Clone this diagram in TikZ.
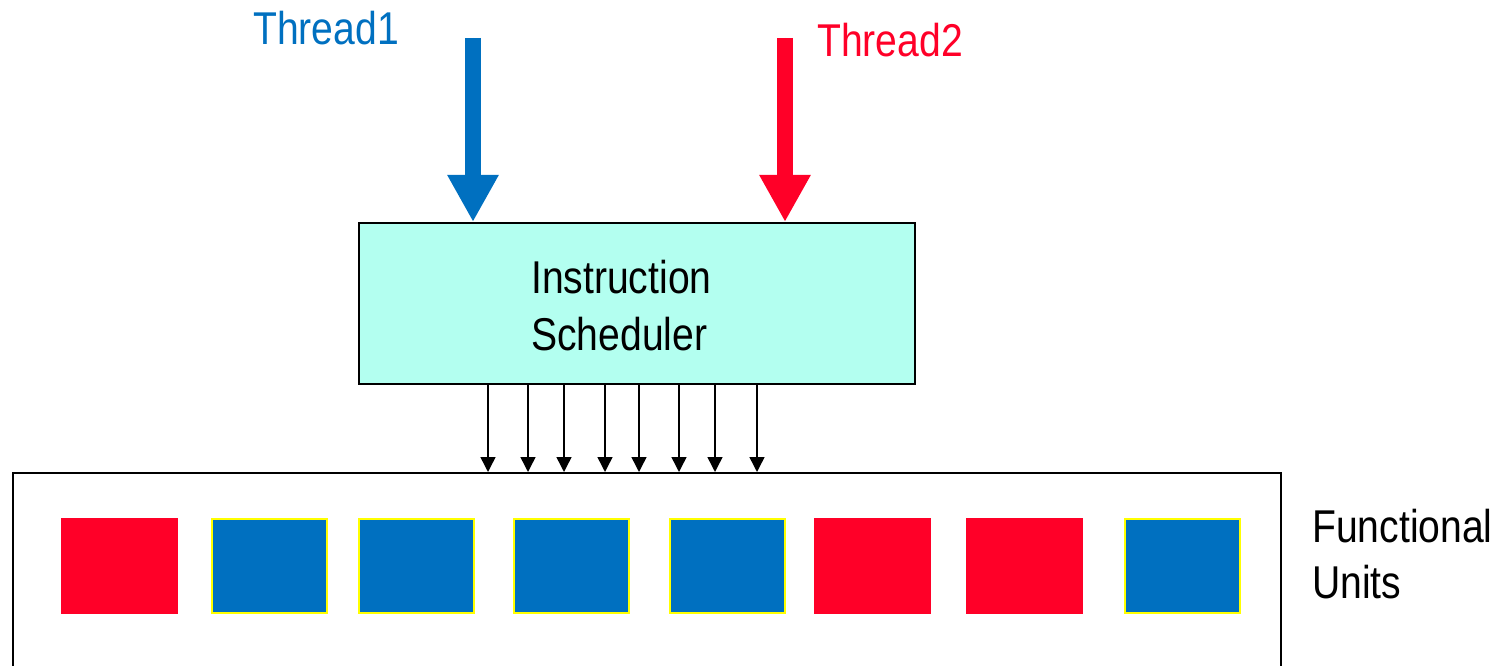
\documentclass[tikz,border=0pt]{standalone}
\usepackage{fontspec}
\setmainfont{Liberation Sans}[FakeStretch=0.85]
\usetikzlibrary{arrows.meta}
\definecolor{tblue}{HTML}{0070C0}
\definecolor{tred}{HTML}{FF0028}
\definecolor{schedfill}{HTML}{B3FFF0}
\definecolor{unitedge}{HTML}{FFFF00}
\tikzset{
  lbl/.style={anchor=base west, inner sep=0pt, font=\fontsize{46}{57}\selectfont},
  bigarrow/.style={line width=16pt, -{Triangle[width=48pt,length=47pt]}},
  issue/.style={line width=1.5pt, -{Triangle[width=15pt,length=15pt]}},
  unit/.style={anchor=north west, minimum width=117pt, minimum height=96pt, inner sep=0pt, outer sep=0pt},
  redunit/.style={unit, fill=tred},
  blueunit/.style={unit, fill=tblue, draw=unitedge, line width=2pt, minimum width=115pt, minimum height=94pt},
}
\begin{document}
\begin{tikzpicture}[x=1pt,y=-1pt]
\useasboundingbox (0,0) rectangle (1505,666);
\clip (0,0) rectangle (1505,666);

% scheduler box and its label
\node[draw, fill=schedfill, line width=2pt, minimum width=556pt, minimum height=161pt,
      anchor=north west, inner sep=0pt] (sched) at (358,222) {};
\node[lbl, align=left, text width=300pt] (schedtext) at (531,293) {Instruction\\Scheduler};

% thread inputs
\node[lbl, text=tblue] (t1) at (253,45) {Thread1};
\node[lbl, text=tred] (t2) at (817,57) {Thread2};
\coordinate (t1top) at (473,38);
\coordinate (t2top) at (785,38);
\draw[bigarrow, draw=tblue, fill=tblue] (t1top) -- (t1top |- sched.north);
\draw[bigarrow, draw=tred, fill=tred] (t2top) -- (t2top |- sched.north);

% functional units frame (runs off the bottom edge)
\node[draw, line width=2pt, minimum width=1268pt, minimum height=230pt,
      anchor=north west, inner sep=0pt] (fu) at (12,472) {};
\node[lbl] (fulabel) at (1312,542) {Functional};
\node[lbl] (fulabel2) at (1312,598) {Units};

% issue arrows from the scheduler to the units
\foreach \x/\n in {488/1,528/2,564/3,605/4,639/5,679/6,715/7,757/8}{
  \coordinate (iss\n) at (\x,385);
  \draw[issue] (iss\n |- sched.south) -- (iss\n |- fu.north);
}

% functional units
\node[redunit]  (u1) at (61,518) {};
\node[blueunit] (u2) at (212,519) {};
\node[blueunit] (u3) at (359,519) {};
\node[blueunit] (u4) at (514,519) {};
\node[blueunit] (u5) at (670,519) {};
\node[redunit]  (u6) at (814,518) {};
\node[redunit]  (u7) at (966,518) {};
\node[blueunit] (u8) at (1125,519) {};
\end{tikzpicture}
\end{document}
